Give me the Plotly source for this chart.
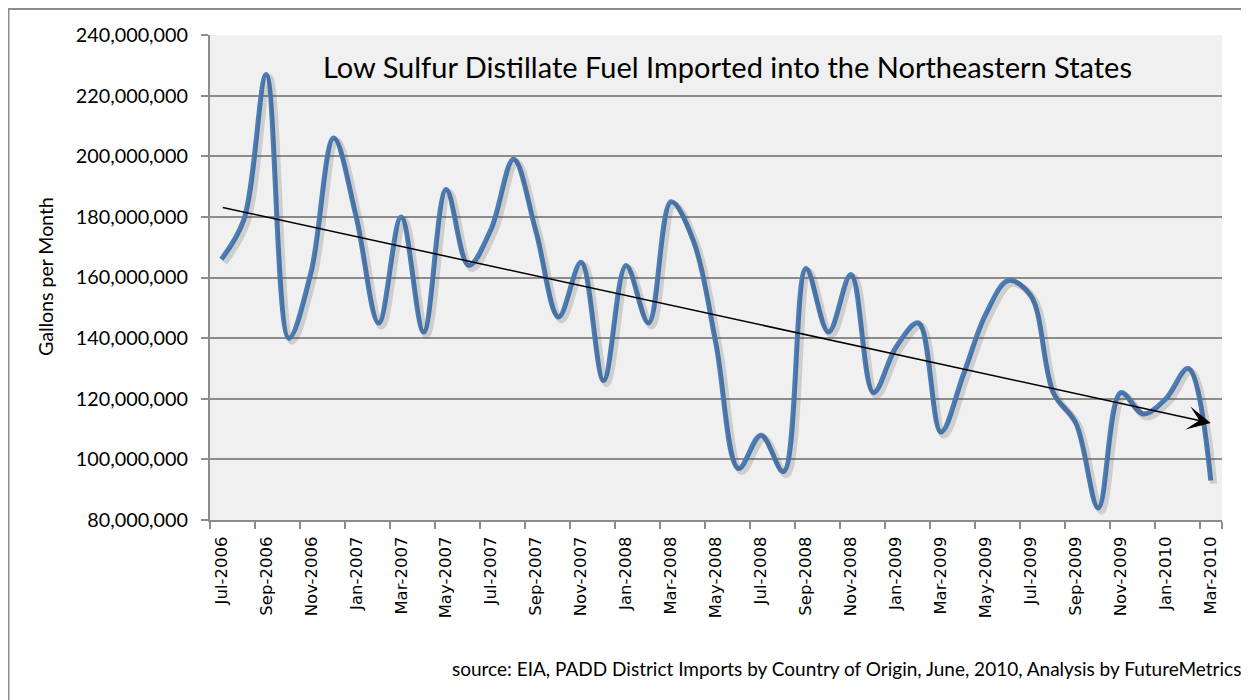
import plotly.graph_objects as go

months = [
    "Jul-2006", "Aug-2006", "Sep-2006", "Oct-2006", "Nov-2006", "Dec-2006",
    "Jan-2007", "Feb-2007", "Mar-2007", "Apr-2007", "May-2007", "Jun-2007",
    "Jul-2007", "Aug-2007", "Sep-2007", "Oct-2007", "Nov-2007", "Dec-2007",
    "Jan-2008", "Feb-2008", "Mar-2008", "Apr-2008", "May-2008", "Jun-2008",
    "Jul-2008", "Aug-2008", "Sep-2008", "Oct-2008", "Nov-2008", "Dec-2008",
    "Jan-2009", "Feb-2009", "Mar-2009", "Apr-2009", "May-2009", "Jun-2009",
    "Jul-2009", "Aug-2009", "Sep-2009", "Oct-2009", "Nov-2009", "Dec-2009",
    "Jan-2010", "Feb-2010", "Mar-2010",
]

# Gallons per month (millions)
gallons_m = [
    166, 179, 227, 140, 162, 206,
    180, 145, 180, 142, 189, 164,
    176, 199, 175, 147, 165, 126,
    164, 145, 185, 172, 138, 97,
    108, 96, 163, 142, 161, 122,
    137, 145, 109, 128, 148, 159,
    154, 122, 112, 84, 122, 115,
    120, 130, 93,
]
gallons = [v * 1_000_000 for v in gallons_m]

tick_labels = months[::2]

# trend arrow: start (first month) and end (last month), gallons
trend_values = [183_200_000, 112_000_000]

title_text = "Low Sulfur Distillate Fuel Imported into the Northeastern States"
source_text = "source: EIA, PADD District Imports by Country of Origin, June, 2010, Analysis by FutureMetrics"

# the page body has an 8px margin; the figure is sized to fill the rest
OFF = 8
W, H = 1249 - OFF, 700 - OFF
L, R, T, B = 202, 27, 27, 180
pw, ph = W - L - R, H - T - B


def px(xpage):
    return (xpage - OFF - L) / pw


def py(ypage):
    return (T + ph - (ypage - OFF)) / ph


y_range = [80_000_000, 240_000_000]
x_range = [-0.5, len(months) - 0.5]

# shadow offset (pixels) expressed via the overlay axes ranges
sh_px = 3
x_per_px = (x_range[1] - x_range[0]) / pw
y_per_px = (y_range[1] - y_range[0]) / ph

fig = go.Figure()

# drop shadow of the line
fig.add_trace(go.Scatter(
    x=months, y=gallons, mode="lines",
    line=dict(color="rgba(70,70,70,0.20)", width=7, shape="spline", smoothing=1),
    xaxis="x2", yaxis="y2", hoverinfo="skip", showlegend=False,
))

fig.add_trace(go.Scatter(
    x=months, y=gallons, mode="lines",
    line=dict(color="#4A7EBB", width=5, shape="spline", smoothing=1),
    showlegend=False,
))

grid_col = "#8C8C8C"
font_main = "Lato, 'Open Sans', sans-serif"

fig.update_layout(
    width=W, height=H,
    margin=dict(l=L, r=R, t=T, b=B),
    paper_bgcolor="white",
    plot_bgcolor="#F0F0F0",
    showlegend=False,
    xaxis=dict(
        type="category",
        categoryorder="array", categoryarray=months,
        range=x_range,
        tickmode="array", tickvals=tick_labels, ticktext=tick_labels,
        tickangle=-90,
        tickson="boundaries",
        ticks="outside", ticklen=7, tickcolor=grid_col, tickwidth=1.5,
        showline=True, linecolor=grid_col, linewidth=2,
        showgrid=False, zeroline=False,
        tickfont=dict(family="DejaVu Sans", size=16.5, color="black"),
        ticklabelstandoff=8,
    ),
    yaxis=dict(
        range=y_range,
        tickmode="linear", tick0=80_000_000, dtick=20_000_000,
        tickformat=",d",
        ticks="outside", ticklen=7, tickcolor=grid_col, tickwidth=1.5,
        showline=True, linecolor=grid_col, linewidth=2,
        showgrid=True, gridcolor=grid_col, gridwidth=2,
        zeroline=False,
        tickfont=dict(family=font_main, size=19.8, color="black"),
        ticklabelstandoff=9,
    ),
    xaxis2=dict(
        type="category", categoryorder="array", categoryarray=months,
        range=[x_range[0] - sh_px * x_per_px, x_range[1] - sh_px * x_per_px],
        overlaying="x", visible=False,
    ),
    yaxis2=dict(
        range=[y_range[0] + sh_px * y_per_px, y_range[1] + sh_px * y_per_px],
        overlaying="y", visible=False,
    ),
)

# outer chart border (top and left edges visible)
fig.add_shape(
    type="rect", xref="paper", yref="paper",
    x0=px(8.5), x1=px(1249 + 20),
    y0=py(700 + 20), y1=py(9),
    line=dict(color="#8C8C8C", width=2), fillcolor="rgba(0,0,0,0)", layer="below",
)

# trend arrow
fig.add_annotation(
    x=len(months) - 1, y=trend_values[1],
    ax=0, ay=trend_values[0],
    xref="x", yref="y", axref="x", ayref="y",
    text="", showarrow=True,
    arrowhead=3, arrowsize=2.6, arrowwidth=1.5, arrowcolor="black", standoff=0,
)

# title
fig.add_annotation(
    x=px(727), y=py(67), xref="paper", yref="paper",
    text=title_text, showarrow=False, xanchor="center", yanchor="middle",
    font=dict(family=font_main, size=29, color="black"),
)

# y-axis title
fig.add_annotation(
    x=px(45), y=py(277), xref="paper", yref="paper",
    text="Gallons per Month", textangle=-90, showarrow=False,
    xanchor="center", yanchor="middle",
    font=dict(family=font_main, size=19.5, color="black"),
)

# source
fig.add_annotation(
    x=px(1243), y=py(668), xref="paper", yref="paper",
    text=source_text, showarrow=False, xanchor="right", yanchor="middle",
    font=dict(family=font_main, size=19, color="black"),
)

fig.write_html("out.html")
